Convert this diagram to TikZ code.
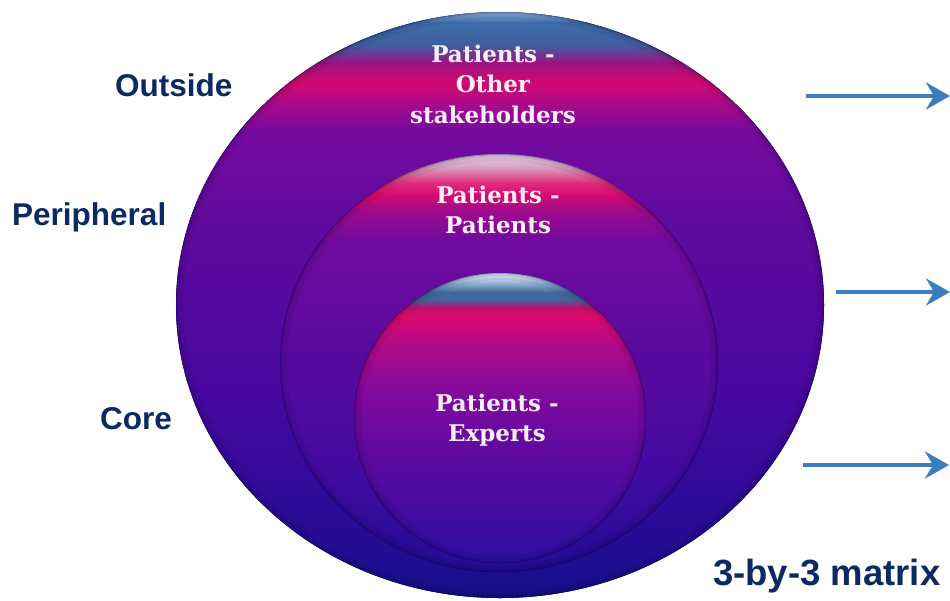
\documentclass[tikz,border=0pt]{standalone}
\usepackage{fontspec}
\setmainfont{Liberation Sans}
\newfontfamily\bubblefont{DejaVu Serif}
\usetikzlibrary{arrows.meta}

% palette
\definecolor{navy}{HTML}{0B2A63}
\definecolor{arrowblue}{HTML}{3A7EC0}
\definecolor{bubbletext}{HTML}{FAEEF8}
% outer ring
\definecolor{oA}{HTML}{8FB4E0}
\definecolor{oB}{HTML}{3E6DAA}
\definecolor{oC}{HTML}{3E5E9E}
\definecolor{oD}{HTML}{9A1484}
\definecolor{oE}{HTML}{D4086E}
\definecolor{oF}{HTML}{B00A86}
\definecolor{oG}{HTML}{760AA0}
\definecolor{oH}{HTML}{600A9E}
\definecolor{oI}{HTML}{4A08A0}
\definecolor{oJ}{HTML}{2E0A98}
\definecolor{oK}{HTML}{160E8A}
% middle ring
\definecolor{mA}{HTML}{ECD0EC}
\definecolor{mB}{HTML}{D8A0C0}
\definecolor{mC}{HTML}{E0307E}
\definecolor{mD}{HTML}{D80A70}
\definecolor{mE}{HTML}{A00A8A}
\definecolor{mF}{HTML}{700AA0}
\definecolor{mG}{HTML}{5A0A9E}
\definecolor{mH}{HTML}{420AA0}
\definecolor{mI}{HTML}{200C92}
% core disc
\definecolor{cA}{HTML}{F0F4FA}
\definecolor{cB}{HTML}{9AB8D8}
\definecolor{cC}{HTML}{3E6A9C}
\definecolor{cD}{HTML}{44609A}
\definecolor{cE}{HTML}{C0106E}
\definecolor{cF}{HTML}{DA0A6C}
\definecolor{cG}{HTML}{B00A88}
\definecolor{cH}{HTML}{820A9C}
\definecolor{cI}{HTML}{640AA0}
\definecolor{cJ}{HTML}{4A0AA0}
\definecolor{cK}{HTML}{2810A0}

% one horizontal gradient band between two heights
\newcommand\gband[4]{\fill[top color=#2,bottom color=#4] (0,#1) rectangle (950,#3+0.6);}
% darkened rim on the inside of a disc
\newcommand\rimshade[1]{%
  \draw[black,opacity=0.06,line width=14] #1;
  \draw[black,opacity=0.08,line width=6] #1;
  \draw[black!50!blue,opacity=0.28,line width=2] #1;}

\tikzset{
  bubble/.style={align=center,text=bubbletext,inner sep=0,
    font=\bubblefont\bfseries\fontsize{23}{30.5}\selectfont},
  sidelabel/.style={text=navy,inner sep=0,anchor=base west,
    font=\bfseries\fontsize{31.5}{36}\selectfont},
  flow/.style={draw=arrowblue,line width=4.5,
    -{Stealth[length=24,width=27,inset=8]}}
}

\begin{document}
\begin{tikzpicture}[x=1pt,y=-1pt]
\useasboundingbox (0,0) rectangle (950,600);

% outer disc: outside stakeholders
\begin{scope}
  \clip (500,305) ellipse [x radius=324, y radius=293];
  \gband{12}{oA}{22}{oB}
  \gband{22}{oB}{45}{oC}
  \gband{45}{oC}{62}{oD}
  \gband{62}{oD}{82}{oE}
  \gband{82}{oE}{100}{oF}
  \gband{100}{oF}{130}{oG}
  \gband{130}{oG}{220}{oH}
  \gband{220}{oH}{380}{oI}
  \gband{380}{oI}{500}{oJ}
  \gband{500}{oJ}{599}{oK}
  \rimshade{(500,305) ellipse [x radius=324, y radius=293]}
\end{scope}

% middle disc: peripheral
\begin{scope}
  \clip (499,363) ellipse [x radius=219, y radius=209];
  \gband{154}{mA}{167}{mB}
  \gband{167}{mB}{182}{mC}
  \gband{182}{mC}{194}{mD}
  \gband{194}{mD}{210}{mE}
  \gband{210}{mE}{240}{mF}
  \gband{240}{mF}{350}{mG}
  \gband{350}{mG}{470}{mH}
  \gband{470}{mH}{573}{mI}
  \rimshade{(499,363) ellipse [x radius=219, y radius=209]}
\end{scope}

% inner disc: core
\begin{scope}
  \clip (500,418) ellipse [x radius=146, y radius=145];
  \gband{273}{cA}{282}{cB}
  \gband{282}{cB}{292}{cC}
  \gband{292}{cC}{300}{cD}
  \gband{300}{cD}{307}{cE}
  \gband{307}{cE}{316}{cF}
  \gband{316}{cF}{345}{cG}
  \gband{345}{cG}{390}{cH}
  \gband{390}{cH}{440}{cI}
  \gband{440}{cI}{500}{cJ}
  \gband{500}{cJ}{564}{cK}
  \rimshade{(500,418) ellipse [x radius=146, y radius=145]}
\end{scope}

% texts inside the discs
\node[bubble] (others) at (493,84) {Patients -\\Other\\stakeholders};
\node[bubble] (peers) at (498,210) {Patients -\\Patients};
\node[bubble] (experts) at (497,420) {Patients -\\Experts};

% level labels
\node[sidelabel] (outside) at (115,96) {Outside};
\node[sidelabel] (peripheral) at (12,225) {Peripheral};
\node[sidelabel] (core) at (100,429) {Core};
\node[sidelabel,font=\bfseries\fontsize{36.5}{40}\selectfont] (matrix) at (713,585) {3-by-3 matrix};

% arrows on the right
\coordinate (a1s) at (806,96);  \coordinate (a1e) at (950,96);
\coordinate (a2s) at (836,292); \coordinate (a2e) at (950,292);
\coordinate (a3s) at (803,465); \coordinate (a3e) at (949,465);
\draw[flow] (a1s) -- (a1e);
\draw[flow] (a2s) -- (a2e);
\draw[flow] (a3s) -- (a3e);
\end{tikzpicture}
\end{document}
